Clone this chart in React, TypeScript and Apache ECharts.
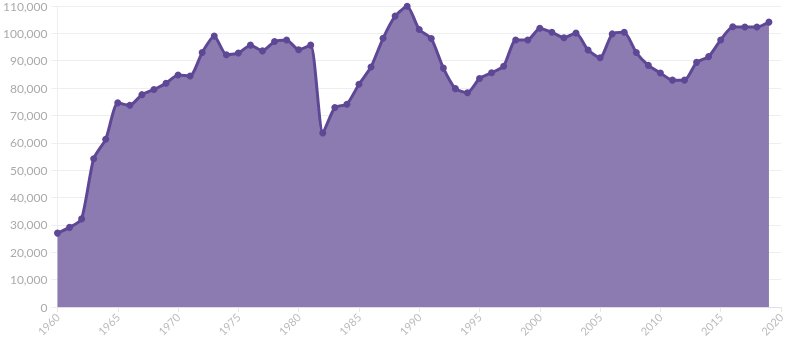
import React, { useEffect, useRef } from "react";
import * as echarts from "echarts";

const years: number[] = [
  1960, 1961, 1962, 1963, 1964, 1965, 1966, 1967, 1968, 1969,
  1970, 1971, 1972, 1973, 1974, 1975, 1976, 1977, 1978, 1979,
  1980, 1981, 1982, 1983, 1984, 1985, 1986, 1987, 1988, 1989,
  1990, 1991, 1992, 1993, 1994, 1995, 1996, 1997, 1998, 1999,
  2000, 2001, 2002, 2003, 2004, 2005, 2006, 2007, 2008, 2009,
  2010, 2011, 2012, 2013, 2014, 2015, 2016, 2017, 2018, 2019,
];

const values: number[] = [
  27000, 29100, 32200, 54200, 61300, 74600, 73700, 77600, 79500, 81800,
  84800, 84400, 93000, 99000, 92200, 92800, 95700, 93600, 97000, 97600,
  94000, 95700, 63600, 72900, 74100, 81400, 87700, 98200, 106300, 109900,
  101400, 98100, 87300, 79800, 78300, 83500, 85600, 88000, 97600, 97600,
  101900, 100400, 98400, 100100, 93900, 91100, 99800, 100400, 93000, 88300,
  85500, 82900, 82900, 89400, 91500, 97600, 102400, 102300, 102300, 104100,
];

export default function App() {
  const ref = useRef<HTMLDivElement>(null);
  useEffect(() => {
    if (!ref.current) return;
    const chart = echarts.init(ref.current, undefined, { renderer: "svg" });
    chart.setOption({
      animation: false,
      grid: { left: 54, right: 9, top: 5, bottom: 37, containLabel: false },
      xAxis: {
        type: "value",
        min: 1960,
        max: 2020,
        interval: 5,
        axisLine: { show: true, lineStyle: { color: "#e2dcec", width: 1 } },
        axisTick: { show: true, length: 5, lineStyle: { color: "#e6e6e6" } },
        splitLine: { show: false },
        axisLabel: {
          rotate: 45,
          color: "#bbbbbb",
          fontFamily: "Lato",
          fontSize: 11,
          margin: 8,
          formatter: (v: number) => String(v),
        },
      },
      yAxis: {
        type: "value",
        min: 0,
        max: 110000,
        interval: 10000,
        axisLine: { show: true, lineStyle: { color: "#eeeeee" } },
        axisTick: { show: true, length: 6, lineStyle: { color: "#eeeeee" } },
        splitLine: { show: true, lineStyle: { color: "#eeeeee" } },
        axisLabel: {
          color: "#aaaaaa",
          fontFamily: "Lato",
          fontSize: 12,
          margin: 10,
        },
      },
      series: [
        {
          type: "line",
          data: years.map((y, i) => [y, values[i]]),
          smooth: 0.2,
          symbol: "circle",
          symbolSize: 7,
          showSymbol: true,
          lineStyle: { color: "#5e4896", width: 3 },
          itemStyle: { color: "#5e4896" },
          areaStyle: { color: "#8b7bb0", opacity: 1 },
        },
      ],
    });
    return () => chart.dispose();
  }, []);
  return (
    <div
      ref={ref}
      style={{ position: "fixed", left: 0, top: 0, width: 790, height: 344 }}
    />
  );
}
